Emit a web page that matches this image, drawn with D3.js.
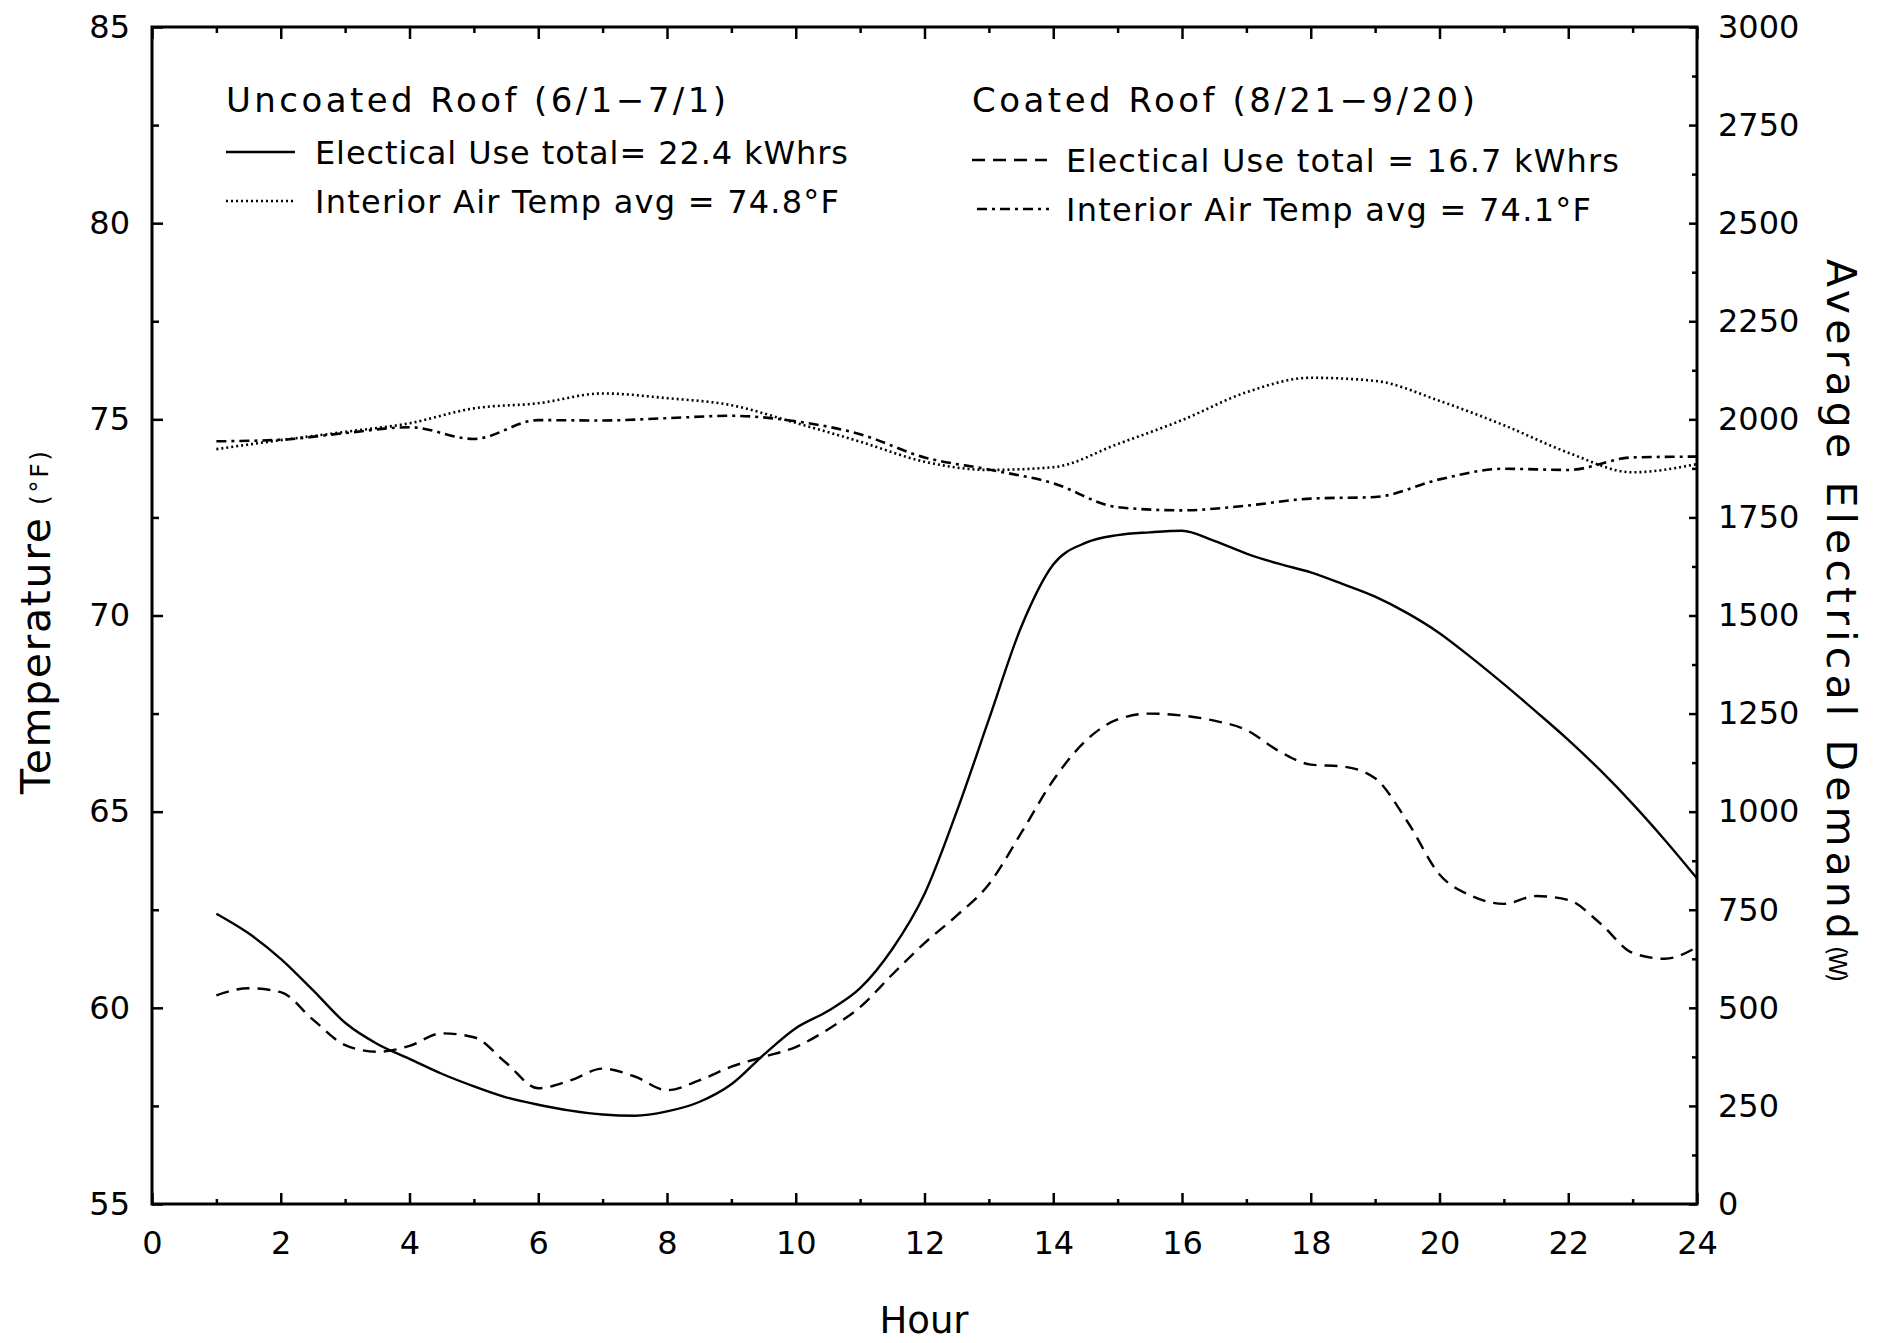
<!DOCTYPE html>
<html>
<head>
<meta charset="utf-8">
<script src="https://cdn.jsdelivr.net/npm/d3@7"></script>
<style>
  body { margin: 0; background: #fff; }
  svg { display: block; }
  text { font-family: "DejaVu Sans", sans-serif; fill: #000; }
</style>
</head>
<body>
<svg width="1887" height="1343"></svg>
<script>
// hours for the electrical curves (read every half hour)
var halfHours = [1,1.5,2,2.5,3,3.5,4,4.5,5,5.5,6,6.5,7,7.5,8,8.5,9,9.5,10,10.5,11,11.5,12,12.5,
                 13,13.5,14,14.5,15,15.5,16,16.5,17,17.5,18,18.5,19,19.5,20,20.5,21,21.5,22,22.5,23,23.5,24];
// average electrical demand (W)
var uncoatedElec = [740,690,625,545,462,408,370,332,300,272,253,238,228,225,236,260,305,380,448,492,550,650,790,1000,
                    1235,1470,1630,1685,1705,1712,1716,1690,1658,1632,1610,1580,1548,1506,1455,1392,1325,1255,1183,1105,1020,928,830];
var coatedElec = [532,550,540,470,405,388,403,435,425,360,295,315,345,325,290,315,350,375,400,445,502,585,665,735,
                  815,945,1080,1180,1235,1250,1245,1232,1208,1155,1120,1115,1085,975,840,785,765,785,775,715,640,625,655];

// hours for the temperature curves
var hours = [1,2,3,4,5,6,7,8,9,10,11,12,13,14,15,16,17,18,19,20,21,22,23,24];
// interior air temperature (F)
var uncoatedTemp = [74.24,74.47,74.68,74.90,75.28,75.41,75.66,75.54,75.36,74.91,74.43,73.92,73.71,73.78,74.37,74.98,75.69,76.06,75.98,75.47,74.85,74.15,73.65,73.86];
var coatedTemp = [74.44,74.48,74.65,74.80,74.50,74.98,74.97,75.03,75.09,74.95,74.62,74.03,73.72,73.37,72.76,72.68,72.80,72.98,73.02,73.47,73.74,73.71,74.03,74.05];

var xTicks = [0,2,4,6,8,10,12,14,16,18,20,22,24];
var tempTicks = [55,60,65,70,75,80,85];
var elecTicks = [0,250,500,750,1000,1250,1500,1750,2000,2250,2500,2750,3000];

var svg = d3.select("svg");
var plot = { x0: 152, x1: 1697, y0: 27, y1: 1204 };

var x = d3.scaleLinear().domain([0, 24]).range([plot.x0, plot.x1]);
var yT = d3.scaleLinear().domain([55, 85]).range([plot.y1, plot.y0]);
var yW = d3.scaleLinear().domain([0, 3000]).range([plot.y1, plot.y0]);

function styleAxis(g) {
  g.select(".domain").remove();
  g.selectAll(".tick line").attr("stroke", "#000").attr("stroke-width", 2.5);
  g.selectAll(".tick text").style("font-size", "32px").style("font-family", "DejaVu Sans, sans-serif");
}

// bottom axis
svg.append("g").attr("transform", "translate(0," + plot.y1 + ")")
    .call(d3.axisBottom(x).tickValues(xTicks).tickSize(-11).tickPadding(27).tickFormat(d3.format("d")))
    .call(styleAxis);
svg.append("g").attr("transform", "translate(0," + plot.y1 + ")")
    .call(d3.axisBottom(x).tickValues(d3.range(1, 24, 2)).tickSize(-5).tickFormat(""))
    .call(styleAxis);
// top axis (ticks only)
svg.append("g").attr("transform", "translate(0," + plot.y0 + ")")
    .call(d3.axisTop(x).tickValues(xTicks).tickSize(-12).tickFormat(""))
    .call(styleAxis);
svg.append("g").attr("transform", "translate(0," + plot.y0 + ")")
    .call(d3.axisTop(x).tickValues(d3.range(1, 24, 2)).tickSize(-6).tickFormat(""))
    .call(styleAxis);
// left axis
svg.append("g").attr("transform", "translate(" + plot.x0 + ",0)")
    .call(d3.axisLeft(yT).tickValues(tempTicks).tickSize(-11).tickPadding(22))
    .call(styleAxis);
svg.append("g").attr("transform", "translate(" + plot.x0 + ",0)")
    .call(d3.axisLeft(yT).tickValues(d3.range(57.5, 85, 5)).tickSize(-7).tickFormat(""))
    .call(styleAxis);
// right axis
svg.append("g").attr("transform", "translate(" + plot.x1 + ",0)")
    .call(d3.axisRight(yW).tickValues(elecTicks).tickSize(-8).tickPadding(21).tickFormat(d3.format("d")))
    .call(styleAxis);
svg.append("g").attr("transform", "translate(" + plot.x1 + ",0)")
    .call(d3.axisRight(yW).tickValues(d3.range(125, 3000, 250)).tickSize(-5).tickFormat(""))
    .call(styleAxis);

// frame
svg.append("rect")
    .attr("x", plot.x0).attr("y", plot.y0)
    .attr("width", plot.x1 - plot.x0).attr("height", plot.y1 - plot.y0)
    .attr("fill", "none").attr("stroke", "#000").attr("stroke-width", 3);

// curves
var elecLine = d3.line()
    .x(function(d) { return x(d[0]); })
    .y(function(d) { return yW(d[1]); })
    .curve(d3.curveMonotoneX);
var tempLine = d3.line()
    .x(function(d) { return x(d[0]); })
    .y(function(d) { return yT(d[1]); })
    .curve(d3.curveMonotoneX);

var styles = {
  solid:   { dash: null,        width: 2.4 },
  dashed:  { dash: "13,8",      width: 2.4 },
  dotted:  { dash: "2,3",       width: 2.6 },
  dashdot: { dash: "10,5,3,5",  width: 2.6 }
};

function drawCurve(xs, ys, gen, st) {
  svg.append("path")
      .datum(d3.zip(xs, ys))
      .attr("d", gen)
      .attr("fill", "none")
      .attr("stroke", "#000")
      .attr("stroke-width", st.width)
      .attr("stroke-dasharray", st.dash);
}

drawCurve(halfHours, uncoatedElec, elecLine, styles.solid);
drawCurve(halfHours, coatedElec, elecLine, styles.dashed);
drawCurve(hours, uncoatedTemp, tempLine, styles.dotted);
drawCurve(hours, coatedTemp, tempLine, styles.dashdot);

// legend
function legendText(tx, ty, str, len, size) {
  svg.append("text")
      .attr("x", tx).attr("y", ty)
      .attr("textLength", len).attr("lengthAdjust", "spacing")
      .style("font-size", size + "px")
      .text(str);
}
function legendSample(x1, x2, ly, st) {
  svg.append("line")
      .attr("x1", x1).attr("x2", x2).attr("y1", ly).attr("y2", ly)
      .attr("stroke", "#000").attr("stroke-width", st.width)
      .attr("stroke-dasharray", st.dash);
}

legendText(226, 112, "Uncoated Roof (6/1\u22127/1)", 500, 34);
legendSample(226, 295, 152, styles.solid);
legendText(315, 164, "Electical Use total= 22.4 kWhrs", 533, 32);
legendSample(226, 295, 201, styles.dotted);
legendText(315, 213, "Interior Air Temp avg = 74.8\u00b0F", 524, 32);

legendText(972, 112, "Coated Roof (8/21\u22129/20)", 503, 34);
legendSample(972, 1047, 160, styles.dashed);
legendText(1066, 172, "Electical Use total = 16.7 kWhrs", 553, 32);
legendSample(977, 1049, 209, styles.dashdot);
legendText(1066, 221, "Interior Air Temp avg = 74.1\u00b0F", 525, 32);

// axis titles
svg.append("text")
    .attr("transform", "translate(50,794) rotate(-90)")
    .attr("textLength", 276).attr("lengthAdjust", "spacing")
    .style("font-size", "41px")
    .text("Temperature");
svg.append("text")
    .attr("transform", "translate(48,505) rotate(-90)")
    .attr("textLength", 54).attr("lengthAdjust", "spacing")
    .style("font-size", "25px")
    .text("(\u00b0F)");

svg.append("text")
    .attr("transform", "translate(1827,259) rotate(90)")
    .attr("textLength", 680).attr("lengthAdjust", "spacing")
    .style("font-size", "41px")
    .text("Average Electrical Demand");
svg.append("text")
    .attr("transform", "translate(1829,946) rotate(90)")
    .attr("textLength", 36).attr("lengthAdjust", "spacing")
    .style("font-size", "24px")
    .text("(W)");

svg.append("text")
    .attr("x", 924).attr("y", 1333)
    .attr("text-anchor", "middle")
    .style("font-size", "37px")
    .text("Hour");
</script>
</body>
</html>
